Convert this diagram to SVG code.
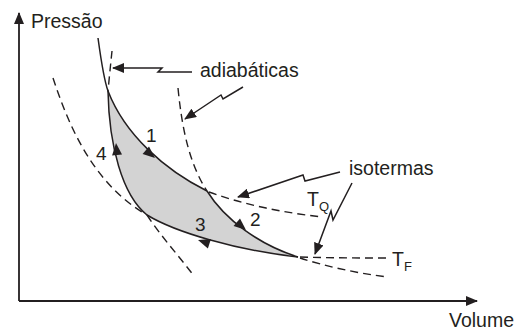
<svg xmlns="http://www.w3.org/2000/svg" width="515" height="331" viewBox="0 0 515 331">
<style>
text{font-family:"Liberation Sans",Arial,sans-serif;fill:#231f20}
.lbl{font-size:19.5px}
.num{font-size:19px}
.sub{font-size:13px}
.solid{fill:none;stroke:#231f20;stroke-width:1.5}
.dash{fill:none;stroke:#231f20;stroke-width:1.4;stroke-dasharray:8 5}
.lead{fill:none;stroke:#231f20;stroke-width:1.5;marker-end:url(#arr)}
.axis{fill:none;stroke:#231f20;stroke-width:1.8;marker-end:url(#arr)}
</style>
<defs>
<marker id="arr" viewBox="0 0 12 10" refX="11" refY="5" markerWidth="12" markerHeight="10" markerUnits="userSpaceOnUse" orient="auto">
<path d="M0,0 L12,5 L0,10 Z" fill="#231f20"/>
</marker>
<path id="ah" d="M0,0 L-12,-5 L-12,5 Z" fill="#231f20"/>
</defs>
<rect width="515" height="331" fill="#ffffff"/>
<g id="cycle-area">
<path d="M108,91 C125,135 165,170 207,191 C225,220 260,245 298,257 C235,250 175,232 147,215 C122,195 109,145 108,91 Z" fill="#d3d3d3"/>
</g>
<g id="axes">
<path class="axis" d="M19,301 L19,13"/>
<path class="axis" d="M19,301 L477,301"/>
<text id="lbl-pressao" class="lbl" x="31" y="28">Pressão</text>
<text id="lbl-volume" class="lbl" x="449" y="327">Volume</text>
</g>
<g id="connectors">
<!-- isotherm T_Q -->
<path class="solid" d="M98,38 C101,60 104,80 108,91 C125,135 165,170 207,191"/>
<path class="dash" d="M209,192 C245,205 285,213 323,217"/>
<!-- isotherm T_F -->
<path class="dash" d="M53,78 C70,130 95,185 147,215"/>
<path class="solid" d="M147,215 C175,232 235,250 298,257"/>
<path class="dash" d="M300,257 C330,258 360,258 390,258"/>
<!-- left adiabatic -->
<path class="dash" d="M112,51 Q110,70 108,91"/>
<path class="solid" d="M108,91 C109,145 122,195 147,215"/>
<path class="dash" d="M147,215 C160,235 178,255 194,276"/>
<!-- right adiabatic -->
<path class="dash" d="M178,88 C182,130 190,165 207,191"/>
<path class="solid" d="M207,191 C225,220 260,245 298,257"/>
<path class="dash" d="M300,258 C325,266 355,273 388,277"/>
<!-- cycle arrows -->
<use href="#ah" transform="translate(155,158) rotate(40)"/>
<use href="#ah" transform="translate(246,230) rotate(40)"/>
<use href="#ah" transform="translate(198,240) rotate(198)"/>
<use href="#ah" transform="translate(116,143) rotate(265)"/>
<!-- leaders -->
<path class="lead" d="M192,72 L158,72 L162,68 L113,68"/>
<path class="lead" d="M243,87 L223,99 L221,95 L185,119"/>
<path class="lead" d="M340,172 L305,181 L303,175 L238,197"/>
<path class="lead" d="M352,183 L333,220 L331,211 L315,254"/>
</g>
<g id="labels">
<text class="lbl" x="200" y="77">adiabáticas</text>
<text class="lbl" x="349" y="175">isotermas</text>
<text class="num" x="146" y="142">1</text>
<text class="num" x="250" y="226">2</text>
<text class="num" x="195" y="231">3</text>
<text class="num" x="96" y="160">4</text>
<text class="lbl" x="307" y="206">T<tspan class="sub" dy="5">Q</tspan></text>
<text class="lbl" x="392" y="266">T<tspan class="sub" dy="5">F</tspan></text>
</g>
</svg>
